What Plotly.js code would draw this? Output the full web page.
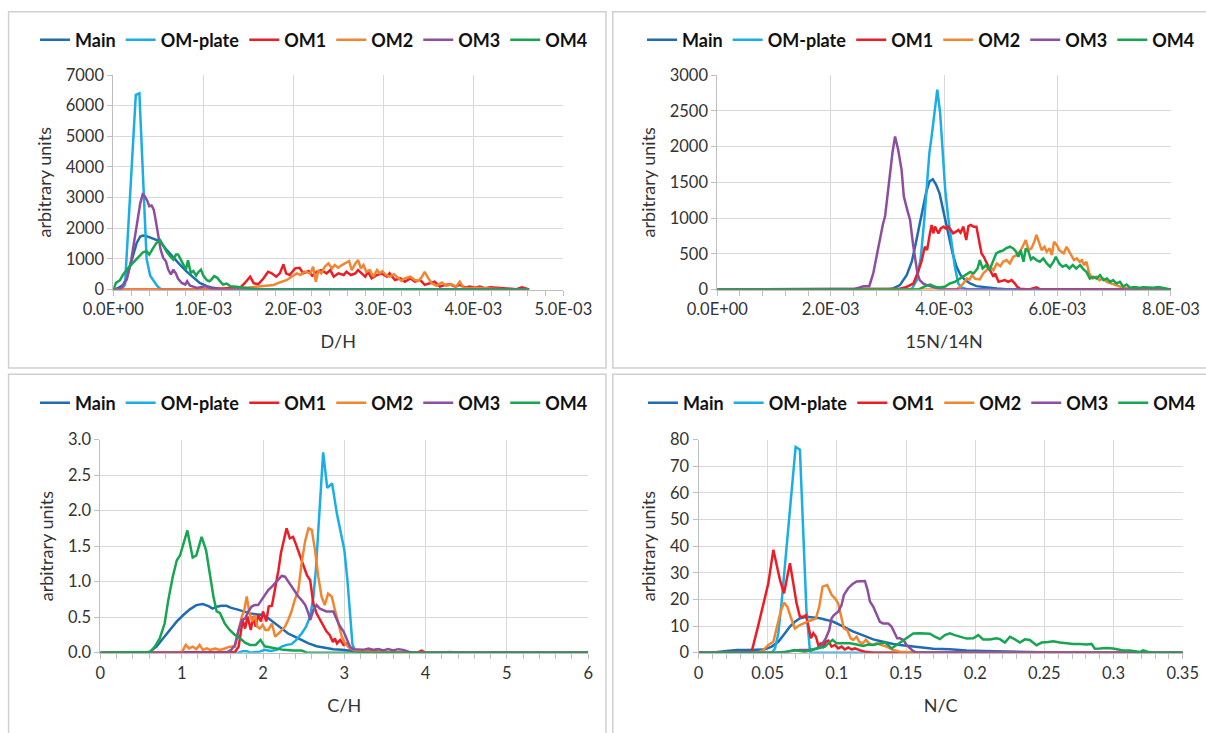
<!DOCTYPE html>
<html>
<head>
<meta charset="utf-8">
<script src="https://cdn.plot.ly/plotly-3.0.1.min.js"></script>
<style>
  html, body { margin: 0; padding: 0; background: #ffffff; }
  #chart { width: 1206px; height: 733px; }
</style>
</head>
<body>
<div id="chart"></div>
<script>
// ---------------- DATA ----------------
const SERIES_NAMES = ['Main', 'OM-plate', 'OM1', 'OM2', 'OM3', 'OM4'];

// Panel 1: D/H  (x in units of 1e-3)
const DH_TICK_VALS = [0, 1, 2, 3, 4, 5];
const DH_TICK_TEXT = ['0.0E+00', '1.0E-03', '2.0E-03', '3.0E-03', '4.0E-03', '5.0E-03'];
const DH_MAIN = [[0,0],[0.05,40],[0.11,150],[0.15,400],[0.185,750],[0.22,1150],[0.26,1520],[0.30,1730],[0.33,1760],[0.37,1740],[0.426,1680],[0.48,1630],[0.52,1575],[0.59,1300],[0.67,1030],[0.74,815],[0.81,600],[0.89,380],[0.96,217],[1.04,110],[1.11,54],[1.19,20],[1.3,0],[4.62,0]];
const DH_PLATE = [[0,0],[0.09,0],[0.13,150],[0.17,2100],[0.21,4200],[0.25,6350],[0.29,6400],[0.33,3600],[0.37,1000],[0.41,450],[0.45,270],[0.49,110],[0.53,0],[4.62,0]];
const DH_OM1 = [[0,0],[1.0,0],[1.2,30],[1.3,50],[1.41,60],[1.46,205],[1.52,418],[1.56,205],[1.61,170],[1.67,365],[1.72,580],[1.76,527],[1.81,418],[1.85,527],[1.89,820],[1.92,527],[1.96,472],[2.02,690],[2.07,710],[2.11,527],[2.17,600],[2.21,450],[2.26,580],[2.31,635],[2.37,527],[2.41,635],[2.45,418],[2.50,527],[2.56,472],[2.59,580],[2.64,472],[2.69,527],[2.72,635],[2.76,527],[2.80,418],[2.83,580],[2.87,365],[2.93,472],[2.98,527],[3.04,418],[3.07,527],[3.13,310],[3.19,365],[3.24,255],[3.30,365],[3.35,255],[3.41,310],[3.46,150],[3.52,205],[3.57,255],[3.63,95],[3.69,150],[3.74,170],[3.80,95],[3.85,150],[3.91,60],[3.96,95],[4.02,60],[4.07,95],[4.13,40],[4.19,70],[4.26,60],[4.33,40],[4.41,20],[4.48,10],[4.54,70],[4.57,40],[4.62,0]];
const DH_OM2 = [[0,0],[1.3,0],[1.4,30],[1.5,60],[1.6,80],[1.67,100],[1.78,150],[1.85,230],[1.93,310],[1.98,418],[2.04,527],[2.08,472],[2.13,580],[2.19,527],[2.22,745],[2.25,250],[2.28,635],[2.31,527],[2.35,745],[2.39,852],[2.43,690],[2.46,798],[2.50,710],[2.54,798],[2.58,852],[2.62,930],[2.65,635],[2.69,852],[2.72,960],[2.75,690],[2.78,798],[2.81,580],[2.85,635],[2.89,418],[2.93,635],[2.96,527],[2.99,600],[3.03,472],[3.07,418],[3.12,500],[3.17,365],[3.20,280],[3.24,365],[3.30,418],[3.35,310],[3.39,280],[3.43,418],[3.46,580],[3.50,365],[3.54,205],[3.59,120],[3.65,230],[3.70,120],[3.76,170],[3.81,95],[3.85,255],[3.89,60],[3.96,40],[4.04,60],[4.11,40],[4.22,25],[4.33,10],[4.44,0],[4.62,0]];
const DH_OM3 = [[0,0],[0.06,0],[0.09,55],[0.15,325],[0.2,980],[0.26,2060],[0.30,2820],[0.326,3100],[0.35,3040],[0.38,2880],[0.40,2715],[0.426,2740],[0.45,2600],[0.47,2280],[0.50,1740],[0.526,1300],[0.555,1030],[0.585,920],[0.61,650],[0.64,490],[0.667,650],[0.696,520],[0.72,350],[0.76,217],[0.80,163],[0.82,270],[0.85,130],[0.93,54],[1.02,108],[1.09,33],[1.2,0],[4.62,0]];
const DH_OM4 = [[0,0],[0.03,217],[0.074,304],[0.11,490],[0.167,706],[0.22,870],[0.28,1030],[0.33,1216],[0.37,1250],[0.40,1140],[0.444,1360],[0.48,1520],[0.52,1610],[0.555,1410],[0.59,1250],[0.63,1086],[0.667,977],[0.696,1140],[0.72,1140],[0.75,977],[0.78,815],[0.807,650],[0.83,955],[0.86,543],[0.89,600],[0.92,456],[0.944,565],[0.974,650],[1.0,456],[1.04,304],[1.067,270],[1.09,325],[1.12,434],[1.156,380],[1.185,270],[1.22,163],[1.26,195],[1.3,108],[1.37,87],[1.44,65],[1.52,33],[1.59,10],[1.7,0],[2.2,15],[2.5,0],[3.0,10],[3.5,0],[4.0,5],[4.62,0]];

// Panel 2: 15N/14N (x in units of 1e-3)
const NN_TICK_VALS = [0, 2, 4, 6, 8];
const NN_TICK_TEXT = ['0.0E+00', '2.0E-03', '4.0E-03', '6.0E-03', '8.0E-03'];
const NN_MAIN = [[0,0],[3.0,0],[3.10,15],[3.22,61],[3.34,201],[3.43,388],[3.50,645],[3.56,879],[3.62,1113],[3.68,1346],[3.74,1510],[3.80,1543],[3.86,1463],[3.92,1346],[3.97,1159],[4.03,925],[4.09,692],[4.15,505],[4.22,318],[4.29,201],[4.37,131],[4.46,84],[4.57,47],[4.75,28],[4.93,14],[5.10,5],[5.3,0],[8.0,0]];
const NN_PLATE = [[0,0],[3.35,0],[3.43,10],[3.52,131],[3.59,458],[3.65,972],[3.69,1393],[3.74,1907],[3.78,2141],[3.83,2468],[3.88,2795],[3.93,2468],[3.97,1954],[4.02,1393],[4.07,1019],[4.13,645],[4.19,318],[4.25,84],[4.31,28],[4.40,5],[4.5,0],[8.0,0]];
const NN_OM1 = [[0,0],[3.1,0],[3.22,10],[3.34,37],[3.46,84],[3.55,271],[3.60,388],[3.66,598],[3.70,552],[3.75,785],[3.78,902],[3.81,785],[3.84,879],[3.87,832],[3.90,785],[3.94,855],[3.99,879],[4.03,855],[4.07,879],[4.12,832],[4.16,785],[4.21,809],[4.25,832],[4.29,795],[4.34,879],[4.39,692],[4.43,888],[4.47,902],[4.52,879],[4.57,879],[4.62,645],[4.66,505],[4.70,458],[4.75,365],[4.81,271],[4.87,178],[4.90,224],[4.96,107],[5.01,121],[5.07,131],[5.13,107],[5.19,131],[5.25,84],[5.29,37],[5.34,10],[5.5,0],[5.63,30],[5.7,0],[8.0,0]];
const NN_OM2 = [[0,0],[4.22,0],[4.28,37],[4.34,84],[4.40,154],[4.45,140],[4.49,201],[4.55,150],[4.63,140],[4.69,224],[4.75,271],[4.81,318],[4.87,271],[4.93,364],[4.99,327],[5.04,388],[5.10,411],[5.16,364],[5.22,458],[5.28,481],[5.34,528],[5.40,621],[5.44,692],[5.49,551],[5.54,575],[5.59,668],[5.63,762],[5.68,645],[5.72,551],[5.77,598],[5.81,528],[5.86,575],[5.90,481],[5.94,668],[5.99,621],[6.03,551],[6.07,528],[6.11,505],[6.16,598],[6.21,528],[6.25,481],[6.29,411],[6.34,434],[6.39,388],[6.43,411],[6.47,341],[6.51,388],[6.56,224],[6.62,154],[6.68,177],[6.74,131],[6.80,154],[6.87,107],[6.94,84],[7.01,70],[7.10,42],[7.19,23],[7.28,9],[7.40,23],[7.51,9],[7.7,0],[8.0,0]];
const NN_OM3 = [[0,0],[2.40,0],[2.58,46],[2.68,46],[2.75,224],[2.84,600],[2.92,910],[2.96,1028],[3.02,1448],[3.09,1916],[3.135,2141],[3.19,1954],[3.25,1674],[3.29,1300],[3.35,1113],[3.40,972],[3.45,645],[3.49,411],[3.53,224],[3.57,131],[3.63,84],[3.69,61],[3.78,47],[3.84,28],[3.93,5],[4.0,0],[8.0,0]];
const NN_OM4 = [[0,0],[3.55,0],[3.65,40],[3.75,70],[3.85,35],[3.93,28],[4.02,42],[4.10,84],[4.19,107],[4.28,154],[4.37,201],[4.46,247],[4.52,224],[4.59,294],[4.63,411],[4.68,294],[4.74,341],[4.80,271],[4.86,388],[4.92,505],[4.97,528],[5.03,542],[5.09,575],[5.16,598],[5.22,575],[5.27,528],[5.31,458],[5.35,551],[5.40,388],[5.44,575],[5.49,528],[5.53,420],[5.57,448],[5.63,411],[5.69,388],[5.75,434],[5.81,364],[5.87,318],[5.93,388],[5.97,458],[6.03,364],[6.09,318],[6.15,341],[6.21,294],[6.27,341],[6.33,294],[6.40,341],[6.46,280],[6.51,247],[6.57,154],[6.63,177],[6.69,154],[6.75,201],[6.81,131],[6.87,154],[6.93,107],[6.98,131],[7.04,84],[7.10,107],[7.16,42],[7.22,70],[7.28,23],[7.34,33],[7.43,23],[7.51,33],[7.60,23],[7.69,23],[7.78,33],[7.87,19],[7.93,5],[8.0,0]];

// Panel 3: C/H
const CH_MAIN = [[0,0],[0.5,0],[0.61,0.015],[0.69,0.085],[0.77,0.2],[0.856,0.32],[0.94,0.44],[1.02,0.53],[1.10,0.61],[1.18,0.67],[1.26,0.684],[1.33,0.656],[1.38,0.62],[1.43,0.647],[1.49,0.66],[1.55,0.66],[1.61,0.63],[1.68,0.61],[1.76,0.58],[1.84,0.553],[1.92,0.54],[2.00,0.53],[2.07,0.48],[2.15,0.41],[2.23,0.34],[2.31,0.27],[2.39,0.225],[2.475,0.18],[2.56,0.13],[2.66,0.09],[2.76,0.07],[2.865,0.05],[2.97,0.04],[3.07,0.025],[3.19,0.015],[3.36,0.005],[3.5,0],[4.2,0],[4.3,0.01],[4.4,0],[6,0]];
const CH_PLATE = [[0,0],[1.7,0],[1.75,0.02],[1.8,0.02],[1.85,0],[1.96,0.015],[2.02,0.04],[2.09,0.025],[2.17,0.04],[2.23,0.085],[2.29,0.11],[2.35,0.12],[2.41,0.18],[2.475,0.27],[2.53,0.365],[2.58,0.51],[2.62,0.79],[2.65,1.16],[2.68,1.72],[2.71,2.29],[2.74,2.82],[2.79,2.32],[2.85,2.38],[2.91,1.95],[2.96,1.65],[3.0,1.45],[3.04,1.0],[3.07,0.5],[3.1,0.12],[3.13,0.03],[3.19,0.015],[3.3,0],[6,0]];
const CH_OM1 = [[0,0],[1.6,0],[1.655,0.01],[1.70,0.085],[1.725,0.30],[1.75,0.46],[1.78,0.34],[1.81,0.51],[1.85,0.32],[1.88,0.51],[1.91,0.365],[1.94,0.53],[1.975,0.44],[2.00,0.58],[2.04,0.44],[2.07,0.65],[2.11,0.66],[2.15,0.90],[2.19,1.16],[2.22,1.40],[2.26,1.58],[2.29,1.75],[2.33,1.61],[2.37,1.63],[2.41,1.51],[2.455,1.37],[2.50,1.21],[2.54,1.09],[2.58,1.02],[2.62,0.69],[2.66,0.55],[2.70,0.46],[2.74,0.39],[2.78,0.30],[2.82,0.25],[2.86,0.15],[2.885,0.20],[2.91,0.13],[2.95,0.18],[2.99,0.11],[3.03,0.13],[3.07,0.06],[3.13,0.04],[3.19,0.025],[3.32,0.025],[3.48,0.015],[3.6,0],[3.9,0],[3.95,0.03],[4.0,0],[6,0]];
const CH_OM2 = [[0,0],[1.0,0],[1.05,0.11],[1.09,0.06],[1.135,0.085],[1.18,0.05],[1.22,0.11],[1.26,0.04],[1.31,0.06],[1.35,0.04],[1.41,0.06],[1.47,0.04],[1.53,0.06],[1.59,0.085],[1.655,0.085],[1.70,0.32],[1.74,0.51],[1.77,0.60],[1.80,0.79],[1.83,0.58],[1.865,0.44],[1.90,0.53],[1.93,0.365],[1.96,0.34],[1.995,0.39],[2.03,0.32],[2.065,0.32],[2.11,0.41],[2.15,0.225],[2.19,0.27],[2.23,0.32],[2.27,0.365],[2.31,0.46],[2.35,0.58],[2.39,0.74],[2.435,0.88],[2.475,1.26],[2.52,1.58],[2.56,1.75],[2.60,1.73],[2.64,1.44],[2.68,1.07],[2.72,0.79],[2.76,0.67],[2.80,0.83],[2.845,0.79],[2.885,0.60],[2.93,0.41],[2.97,0.225],[3.01,0.13],[3.05,0.085],[3.11,0.04],[3.19,0.025],[3.32,0.015],[3.48,0.005],[3.6,0],[6,0]];
const CH_OM3 = [[0,0],[1.55,0],[1.61,0.04],[1.655,0.11],[1.70,0.32],[1.74,0.46],[1.78,0.48],[1.82,0.58],[1.86,0.65],[1.90,0.67],[1.94,0.67],[1.98,0.74],[2.02,0.81],[2.065,0.88],[2.11,0.93],[2.15,0.98],[2.19,1.04],[2.23,1.08],[2.27,1.07],[2.31,1.00],[2.35,0.93],[2.39,0.86],[2.435,0.79],[2.475,0.74],[2.52,0.67],[2.56,0.55],[2.58,0.46],[2.62,0.60],[2.66,0.67],[2.70,0.62],[2.74,0.60],[2.78,0.58],[2.82,0.58],[2.865,0.58],[2.91,0.46],[2.95,0.365],[2.99,0.30],[3.03,0.18],[3.07,0.085],[3.11,0.05],[3.17,0.05],[3.23,0.04],[3.30,0.06],[3.36,0.04],[3.42,0.05],[3.48,0.03],[3.54,0.05],[3.60,0.03],[3.665,0.05],[3.725,0.04],[3.79,0.015],[3.85,0],[6,0]];
const CH_OM4 = [[0,0],[0.55,0],[0.61,0.01],[0.67,0.085],[0.73,0.2],[0.79,0.41],[0.835,0.74],[0.89,1.07],[0.94,1.30],[0.98,1.37],[1.02,1.54],[1.07,1.72],[1.10,1.54],[1.135,1.34],[1.18,1.37],[1.245,1.63],[1.30,1.44],[1.35,1.07],[1.39,0.79],[1.43,0.58],[1.47,0.56],[1.53,0.41],[1.59,0.32],[1.655,0.25],[1.72,0.20],[1.78,0.14],[1.84,0.11],[1.91,0.11],[1.97,0.18],[2.02,0.09],[2.09,0.075],[2.17,0.05],[2.25,0.04],[2.37,0.03],[2.475,0.03],[2.54,0],[6,0]];

// Panel 4: N/C
const NC_MAIN = [[0,0],[0.0107,0.1],[0.0203,0.6],[0.0276,1.0],[0.0348,1.0],[0.042,1.0],[0.048,1.25],[0.0529,2.3],[0.0577,4.1],[0.0625,7.3],[0.0661,9.8],[0.0697,11.6],[0.0733,12.9],[0.0781,13.5],[0.083,13.3],[0.0878,12.9],[0.0926,12.3],[0.0974,11.6],[0.1022,10.4],[0.107,9.1],[0.1119,7.9],[0.1167,7.0],[0.1215,6.0],[0.1263,5.0],[0.1311,4.4],[0.136,3.7],[0.1408,3.3],[0.1456,2.9],[0.1504,2.6],[0.1552,2.3],[0.16,2.0],[0.1697,1.5],[0.1817,1.3],[0.1938,0.8],[0.2058,0.6],[0.2178,0.5],[0.2299,0.4],[0.2419,0.25],[0.254,0.1],[0.266,0],[0.35,0]];
const NC_PLATE = [[0,0],[0.053,0],[0.0553,1.6],[0.0577,7.3],[0.060,18.5],[0.0625,32.3],[0.065,46.1],[0.0673,61.1],[0.0702,77.2],[0.0733,76.2],[0.0757,46.1],[0.078,16.0],[0.0806,0.4],[0.082,0],[0.35,0]];
const NC_OM1 = [[0,0],[0.0384,0.3],[0.043,9.8],[0.0468,18.5],[0.0505,26.1],[0.0541,38.6],[0.0589,27.3],[0.0618,22.3],[0.0661,33.6],[0.0685,26.1],[0.0709,18.5],[0.0733,13.5],[0.0757,13.5],[0.0777,14.1],[0.0794,9.8],[0.0813,5.4],[0.0830,7.3],[0.0849,6.0],[0.0866,2.9],[0.0885,3.5],[0.0902,2.3],[0.0921,4.1],[0.0938,4.5],[0.0962,2.3],[0.0986,2.9],[0.1010,1.6],[0.1034,2.3],[0.1058,1.2],[0.1082,2.0],[0.1107,1.2],[0.1131,1.6],[0.1155,1.0],[0.1179,0.7],[0.1203,0.4],[0.1263,0],[0.35,0]];
const NC_OM2 = [[0,0],[0.043,0],[0.0468,1.0],[0.0505,2.9],[0.0541,4.1],[0.057,9.8],[0.0594,15.4],[0.0618,18.8],[0.0642,17.3],[0.0666,13.5],[0.0697,9.1],[0.0733,10.4],[0.0769,11.3],[0.0805,12.0],[0.0849,12.9],[0.0873,17.3],[0.0897,24.8],[0.093,25.4],[0.0962,21.7],[0.0986,20.4],[0.101,18.5],[0.1034,12.3],[0.1051,9.1],[0.1075,8.5],[0.11,5.4],[0.1119,4.8],[0.1143,6.0],[0.1162,4.1],[0.1186,3.5],[0.121,4.8],[0.1234,3.5],[0.1258,2.9],[0.1287,3.5],[0.1323,2.9],[0.136,2.3],[0.1408,1.0],[0.1456,0.4],[0.16,0],[0.35,0]];
const NC_OM3 = [[0,0],[0.06,0],[0.0685,0.7],[0.0733,1.0],[0.0805,1.0],[0.0854,1.6],[0.089,2.9],[0.092,5.4],[0.0945,8.5],[0.0962,12.9],[0.0979,14.1],[0.101,15.4],[0.1034,17.9],[0.1051,21.7],[0.1082,24.2],[0.1114,25.8],[0.1143,26.7],[0.1172,26.7],[0.1203,26.9],[0.1222,23.6],[0.1239,19.2],[0.1263,17.3],[0.1287,14.1],[0.1311,11.6],[0.1335,11.0],[0.1371,11.0],[0.1395,9.8],[0.142,7.3],[0.1436,5.4],[0.1456,5.4],[0.148,4.8],[0.1504,2.9],[0.1528,1.6],[0.1552,0.6],[0.1576,0.1],[0.35,0]];
const NC_OM4 = [[0,0],[0.055,0],[0.0637,0.4],[0.0697,1.0],[0.0733,0.6],[0.0769,0.3],[0.0817,1.0],[0.0866,1.6],[0.0914,2.3],[0.0938,3.5],
  [0.097,4.8],[0.0998,3.5],[0.1046,3.5],[0.1095,3.5],[0.1143,3.1],[0.1191,2.5],[0.1227,3.1],[0.1263,2.9],[0.1311,3.5],[0.1347,3.8],
  [0.1371,2.9],[0.1395,1.6],[0.1432,2.9],[0.1468,4.1],[0.1504,5.5],[0.1552,7.2],[0.16,7.3],[0.1673,7.1],[0.1709,6.0],[0.1745,5.1],
  [0.1781,6.6],[0.1817,7.3],[0.1853,6.6],[0.1889,6.0],[0.1938,5.3],[0.1986,5.4],[0.2022,6.6],[0.2058,5.0],[0.2106,5.0],[0.2154,5.4],
  [0.2179,5.1],[0.2215,3.8],[0.2251,6.0],[0.2287,5.0],[0.2323,3.8],[0.2359,5.0],[0.2395,4.8],[0.2443,2.8],[0.248,3.8],[0.2528,4.0],
  [0.2564,4.3],[0.2612,3.8],[0.266,3.5],[0.2708,3.3],[0.2757,3.3],[0.2805,3.1],[0.2841,3.3],[0.2865,1.5],[0.2901,1.6],[0.2949,1.8],
  [0.2997,1.6],[0.3034,1.3],[0.307,0.8],[0.3118,0.8],[0.3154,0.4],[0.319,0.25],[0.3214,0.9],[0.325,0.25],[0.3287,0],[0.3335,0],
  [0.3383,0.25],[0.3431,0.1],[0.35,0]];

// ---------------- STYLE ----------------
const COLORS = ['#1F6CB5', '#19AEE4', '#EE1C25', '#F28530', '#8E4EA0', '#16A550'];
const W = 1206, H = 733;
const FONT = 'Lato, "Open Sans", sans-serif';
const TXT = '#333333';
const GRID = '#D9D9D9';
const AXL = '#BFBFBF';

const panels = [
  { sets: [DH_MAIN, DH_PLATE, DH_OM1, DH_OM2, DH_OM3, DH_OM4], xa: 'x',  ya: 'y',  leg: 'legend' },
  { sets: [NN_MAIN, NN_PLATE, NN_OM1, NN_OM2, NN_OM3, NN_OM4], xa: 'x2', ya: 'y2', leg: 'legend2' },
  { sets: [CH_MAIN, CH_PLATE, CH_OM1, CH_OM2, CH_OM3, CH_OM4], xa: 'x3', ya: 'y3', leg: 'legend3' },
  { sets: [NC_MAIN, NC_PLATE, NC_OM1, NC_OM2, NC_OM3, NC_OM4], xa: 'x4', ya: 'y4', leg: 'legend4' }
];

const traces = [];
panels.forEach(p => {
  p.sets.forEach((s, i) => {
    traces.push({
      type: 'scatter', mode: 'lines',
      x: s.map(d => d[0]), y: s.map(d => d[1]),
      name: SERIES_NAMES[i],
      xaxis: p.xa, yaxis: p.ya, legend: p.leg,
      line: { color: COLORS[i], width: 2.5 },
      hoverinfo: 'skip'
    });
  });
});

const fx = px => px / W;
const fy = py => 1 - py / H;

function xAxis(dom, range, extra) {
  return Object.assign({
    domain: [fx(dom[0]), fx(dom[1])], range: range, autorange: false,
    showgrid: true, gridcolor: GRID, gridwidth: 1, zeroline: false,
    showline: true, linecolor: AXL, linewidth: 1,
    ticks: 'outside', ticklen: 5, tickcolor: AXL, tickwidth: 1,
    tickfont: { family: FONT, size: 16.5, color: TXT },
    automargin: false, fixedrange: true
  }, extra);
}
function yAxis(dom, range, extra) {
  return Object.assign({
    domain: [fy(dom[1]), fy(dom[0])], range: range, autorange: false,
    showgrid: true, gridcolor: GRID, gridwidth: 1, zeroline: false,
    showline: true, linecolor: AXL, linewidth: 1,
    ticks: 'outside', ticklen: 5, tickcolor: AXL, tickwidth: 1,
    tickfont: { family: FONT, size: 16.5, color: TXT },
    title: { text: 'arbitrary units', font: { family: FONT, size: 18, color: TXT }, standoff: 9 },
    automargin: false, fixedrange: true
  }, extra);
}
const xTitle = t => ({ text: t, font: { family: FONT, size: 18, color: TXT }, standoff: 17 });
const minor = d => ({ ticks: 'outside', ticklen: 5, tickcolor: AXL, dtick: d, showgrid: false });

function legendAt(cx, cy) {
  return {
    orientation: 'h', x: fx(cx), xanchor: 'center', y: fy(cy), yanchor: 'middle',
    font: { family: FONT, size: 18, color: '#111111', weight: 'bold' },
    bgcolor: 'rgba(0,0,0,0)', borderwidth: 0, traceorder: 'normal', itemclick: false
  };
}

const border = (x0, y0, x1, y1) => ({
  type: 'rect', xref: 'paper', yref: 'paper',
  x0: fx(x0), x1: fx(x1), y0: fy(y1), y1: fy(y0),
  line: { color: '#D0D0D0', width: 1.5 }, fillcolor: 'rgba(0,0,0,0)', layer: 'below'
});

const layout = {
  width: W, height: H,
  margin: { l: 0, r: 0, t: 0, b: 0 },
  paper_bgcolor: '#ffffff', plot_bgcolor: '#ffffff',
  showlegend: true, hovermode: false,
  xaxis:  xAxis([113.3, 563.3], [0, 5],    { anchor: 'y',  tickvals: DH_TICK_VALS, ticktext: DH_TICK_TEXT, minor: minor(0.2),  title: xTitle('D/H') }),
  yaxis:  yAxis([75, 289.5],    [0, 7000], { anchor: 'x',  dtick: 1000 }),
  xaxis2: xAxis([717.3, 1170.9],[0, 8],    { anchor: 'y2', tickvals: NN_TICK_VALS, ticktext: NN_TICK_TEXT, minor: minor(0.4), title: xTitle('15N/14N') }),
  yaxis2: yAxis([75, 289.5],    [0, 3000], { anchor: 'x2', dtick: 500 }),
  xaxis3: xAxis([100.4, 588.2], [0, 6],    { anchor: 'y3', dtick: 1, minor: minor(0.2), title: xTitle('C/H') }),
  yaxis3: yAxis([439.5, 652.7], [0, 3],    { anchor: 'x3', dtick: 0.5, tickformat: '.1f' }),
  xaxis4: xAxis([698.5, 1182.7],[0, 0.35], { anchor: 'y4', dtick: 0.05, minor: minor(0.01), title: xTitle('N/C') }),
  yaxis4: yAxis([439.5, 652.7], [0, 80],   { anchor: 'x4', dtick: 10 }),
  legend:  legendAt(314, 40),
  legend2: legendAt(921, 40),
  legend3: legendAt(314, 403),
  legend4: legendAt(922, 403),
  shapes: [
    border(8.6, 11.7, 606, 368),
    border(612.8, 11.7, 1215, 368),
    border(8.6, 374.3, 606, 740),
    border(612.8, 374.3, 1215, 740)
  ]
};

Plotly.newPlot('chart', traces, layout, { staticPlot: true, displayModeBar: false });
</script>
</body>
</html>
